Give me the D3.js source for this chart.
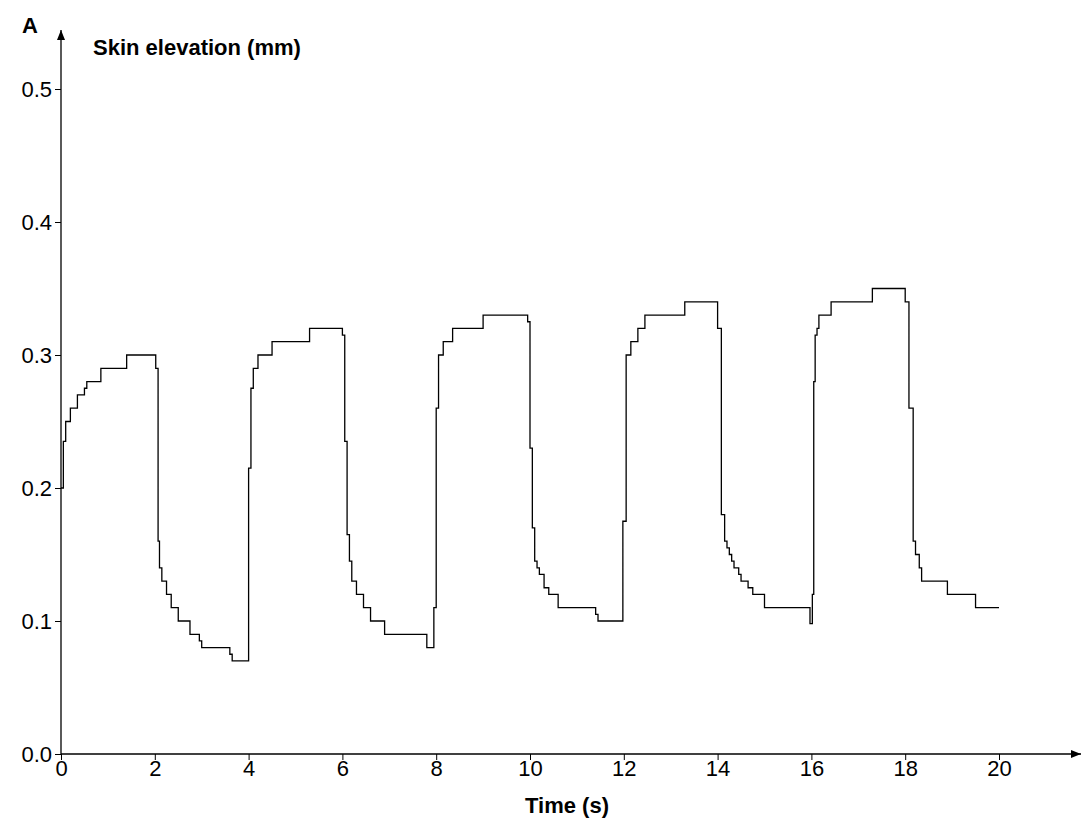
<!DOCTYPE html>
<html><head><meta charset="utf-8">
<script src="https://cdn.jsdelivr.net/npm/d3@7"></script>
<style>body{margin:0;background:#fff}text{font-family:"Liberation Sans",Arial,sans-serif}</style>
</head><body>
<script>
var times = [0,0.05,0.1,0.2,0.35,0.5,0.55,0.85,1.4,2.02,2.07,2.1,2.15,2.25,2.35,2.5,2.75,2.95,3.0,3.6,3.65,
  4.0,4.05,4.1,4.2,4.5,5.3,6.0,6.05,6.1,6.15,6.2,6.3,6.45,6.6,6.9,7.8,7.95,
  8.0,8.05,8.15,8.35,9.0,9.95,10.0,10.05,10.1,10.15,10.2,10.3,10.4,10.6,11.4,11.45,
  11.98,12.05,12.15,12.3,12.45,13.3,14.0,14.08,14.15,14.2,14.25,14.3,14.35,14.45,14.5,14.65,14.75,15.0,15.97,16.02,
  16.05,16.08,16.12,16.16,16.42,17.3,18.0,18.08,18.17,18.22,18.3,18.35,18.47,18.9,19.5,20.0];
var values = [0.20,0.235,0.25,0.26,0.27,0.275,0.28,0.29,0.30,0.29,0.16,0.14,0.13,0.12,0.11,0.10,0.09,0.085,0.08,0.075,0.07,
  0.215,0.275,0.29,0.30,0.31,0.32,0.315,0.235,0.165,0.145,0.13,0.12,0.11,0.10,0.09,0.08,0.11,
  0.26,0.30,0.31,0.32,0.33,0.325,0.23,0.17,0.145,0.14,0.135,0.125,0.12,0.11,0.105,0.10,
  0.175,0.30,0.31,0.32,0.33,0.34,0.32,0.18,0.16,0.155,0.15,0.145,0.14,0.135,0.13,0.125,0.12,0.11,0.098,0.12,
  0.28,0.315,0.32,0.33,0.34,0.35,0.34,0.26,0.16,0.15,0.14,0.13,0.13,0.12,0.11,0.11];
var xTicks = [0,2,4,6,8,10,12,14,16,18,20];
var yTicks = [0.0,0.1,0.2,0.3,0.4,0.5];

var svg = d3.select("body").append("svg").attr("width",1083).attr("height",823);
var x = d3.scaleLinear().domain([0,20]).range([61,999]);
var y = d3.scaleLinear().domain([0,0.5]).range([754,89]);

svg.append("defs").append("marker").attr("id","arr").attr("viewBox","0 0 10 10")
  .attr("refX",10).attr("refY",5).attr("markerWidth",10).attr("markerHeight",10)
  .attr("markerUnits","userSpaceOnUse").attr("orient","auto")
  .append("path").attr("d","M0,1L10,5L0,9Z").attr("fill","#000");

svg.append("g").attr("transform","translate(0,754)")
  .call(d3.axisBottom(x).tickValues(xTicks).tickSize(6).tickFormat(d3.format("d")))
  .call(g=>g.select(".domain").remove())
  .call(g=>g.selectAll("text").attr("font-size",22).attr("dy","0.6em").attr("fill","#000"));
svg.append("g").attr("transform","translate(61,0)")
  .call(d3.axisLeft(y).tickValues(yTicks).tickSize(6).tickFormat(d3.format(".1f")))
  .call(g=>g.select(".domain").remove())
  .call(g=>g.selectAll("text").attr("font-size",22).attr("fill","#000"));

svg.append("line").attr("x1",61).attr("y1",754).attr("x2",1081).attr("y2",754)
  .attr("stroke","#000").attr("stroke-width",1.3).attr("marker-end","url(#arr)");
svg.append("line").attr("x1",61).attr("y1",754).attr("x2",61).attr("y2",30)
  .attr("stroke","#000").attr("stroke-width",1.3).attr("marker-end","url(#arr)");

var pts = times.map((t,i)=>[t,values[i]]);
svg.append("path").datum(pts).attr("fill","none").attr("stroke","#000").attr("stroke-width",1.3)
  .attr("d",d3.line().x(d=>x(d[0])).y(d=>y(d[1])).curve(d3.curveStepAfter));

svg.append("text").attr("x",22).attr("y",33).attr("font-size",22).attr("font-weight","bold").text("A");
svg.append("text").attr("x",93).attr("y",55).attr("font-size",22).attr("font-weight","bold").text("Skin elevation (mm)");
svg.append("text").attr("x",567).attr("y",813).attr("font-size",22).attr("font-weight","bold")
  .attr("text-anchor","middle").text("Time (s)");
</script>
</body></html>
